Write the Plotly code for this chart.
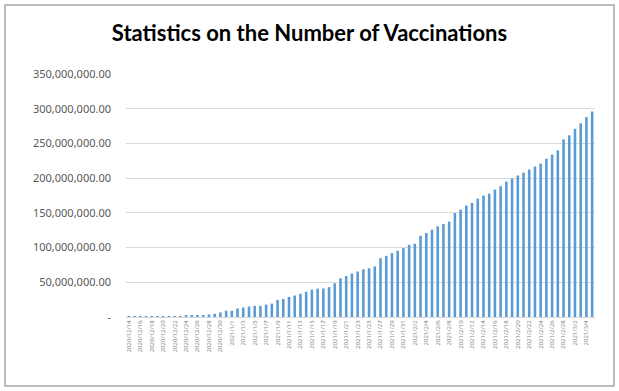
import plotly.graph_objects as go

dates = [
    "2020/12/14", "2020/12/15", "2020/12/16", "2020/12/17", "2020/12/18", "2020/12/19",
    "2020/12/20", "2020/12/21", "2020/12/22", "2020/12/23", "2020/12/24", "2020/12/25",
    "2020/12/26", "2020/12/27", "2020/12/28", "2020/12/29", "2020/12/30", "2020/12/31",
    "2021/1/1", "2021/1/2", "2021/1/3", "2021/1/4", "2021/1/5", "2021/1/6", "2021/1/7",
    "2021/1/8", "2021/1/9", "2021/1/10", "2021/1/11", "2021/1/12", "2021/1/13", "2021/1/14",
    "2021/1/15", "2021/1/16", "2021/1/17", "2021/1/18", "2021/1/19", "2021/1/20", "2021/1/21",
    "2021/1/22", "2021/1/23", "2021/1/24", "2021/1/25", "2021/1/26", "2021/1/27", "2021/1/28",
    "2021/1/29", "2021/1/30", "2021/1/31",
    "2021/2/1", "2021/2/2", "2021/2/3", "2021/2/4", "2021/2/5", "2021/2/6", "2021/2/7",
    "2021/2/8", "2021/2/9", "2021/2/10", "2021/2/11", "2021/2/12", "2021/2/13", "2021/2/14",
    "2021/2/15", "2021/2/16", "2021/2/17", "2021/2/18", "2021/2/19", "2021/2/20", "2021/2/21",
    "2021/2/22", "2021/2/23", "2021/2/24", "2021/2/25", "2021/2/26", "2021/2/27", "2021/2/28",
    "2021/3/1", "2021/3/2", "2021/3/3", "2021/3/4", "2021/3/5",
]

# cumulative vaccinations, in millions
vaccinations_m = [
    0.3, 0.4, 0.5, 0.6, 0.7, 0.8, 0.9, 1.0, 1.2, 1.3, 1.5, 1.7, 2.0, 2.4,
    3.8, 4.7, 6.6, 9.0, 9.0, 12.3, 13.7, 15.1, 16.0, 16.0, 17.9, 19.3, 24.5, 26.0, 28.8, 30.9,
    33.5, 36.4, 39.4, 41.0, 41.1, 43.0, 48.5, 55.8, 58.9, 62.7, 65.5, 68.7, 70.1, 72.8, 84.7,
    88.0, 92.0, 95.4, 99.2, 104.0, 105.5, 117.0, 121.0, 125.7, 130.5, 134.0, 137.3,
    149.8, 154.6, 160.4, 164.3, 170.5, 174.9, 177.7, 183.5, 188.3, 195.0, 199.4, 203.8,
    208.0, 212.4, 216.8, 221.0, 228.0, 234.0, 240.0, 255.8, 261.6, 271.0, 279.0, 288.0, 296.0,
]

y_tick_vals = [0, 50e6, 100e6, 150e6, 200e6, 250e6, 300e6, 350e6]
y_tick_text = ["-", "50,000,000.00", "100,000,000.00", "150,000,000.00", "200,000,000.00",
               "250,000,000.00", "300,000,000.00", "350,000,000.00"]

x_tick_vals = dates[::2]

values = [v * 1e6 for v in vaccinations_m]

W, H = 619, 391
ml, mr, mt, mb = 126, 24, 74, 74

fig = go.Figure(go.Bar(x=dates, y=values, marker=dict(color="#5b9bd5", line=dict(width=0))))

fig.update_layout(
    width=W, height=H,
    margin=dict(l=ml, r=mr, t=mt, b=mb),
    paper_bgcolor="white", plot_bgcolor="white",
    bargap=0.55,
    showlegend=False,
    title=dict(text="<b>Statistics on the Number of Vaccinations</b>",
               x=0.5, xanchor="center", y=1 - 33 / H, yanchor="middle",
               font=dict(family="Lato", size=22, color="black")),
    font=dict(family="Noto Sans", color="#595959"),
)

fig.update_xaxes(
    type="category",
    tickmode="array", tickvals=x_tick_vals, ticktext=x_tick_vals,
    tickangle=-90, tickfont=dict(size=6, color="#7f7f7f"),
    showgrid=False, showline=True, linecolor="#d9d9d9", linewidth=1,
    ticks="", range=[-0.5, len(dates) - 0.5],
)
fig.update_yaxes(
    range=[0, 350e6],
    tickmode="array", tickvals=y_tick_vals, ticktext=y_tick_text,
    tickfont=dict(size=11, color="#595959"),
    showgrid=True, gridcolor="#d9d9d9", gridwidth=1,
    zeroline=False, showline=False, ticks="", ticklabelstandoff=14,
)

pw = W - ml - mr
ph = H - mt - mb
fig.add_shape(type="rect", xref="paper", yref="paper",
              x0=(5 - ml) / pw, x1=(614 - ml) / pw,
              y0=(H - mb - 386) / ph, y1=(H - mb - 5) / ph,
              line=dict(color="#a6a6a6", width=1.5), fillcolor="rgba(0,0,0,0)", layer="below")

fig.write_html("out.html",
               config={"displayModeBar": False},
               post_script="document.body.style.margin='0';document.body.style.overflow='hidden';")
